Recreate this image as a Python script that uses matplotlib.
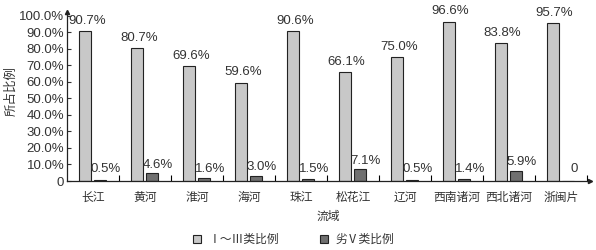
import numpy as np
import matplotlib
matplotlib.use("Agg")
import matplotlib.pyplot as plt

plt.rcParams['font.family'] = ['Liberation Sans', 'Noto Sans CJK SC', 'DejaVu Sans']

basins = ['长江', '黄河', '淮河', '海河', '珠江', '松花江', '辽河', '西南诸河', '西北诸河', '浙闽片']
good = [90.7, 80.7, 69.6, 59.6, 90.6, 66.1, 75.0, 96.6, 83.8, 95.7]
bad = [0.5, 4.6, 1.6, 3.0, 1.5, 7.1, 0.5, 1.4, 5.9, 0.0]
good_labels = ['90.7%', '80.7%', '69.6%', '59.6%', '90.6%', '66.1%', '75.0%', '96.6%', '83.8%', '95.7%']
bad_labels = ['0.5%', '4.6%', '1.6%', '3.0%', '1.5%', '7.1%', '0.5%', '1.4%', '5.9%', '0']
yticks = [0, 10, 20, 30, 40, 50, 60, 70, 80, 90, 100]
ytick_labels = ['0'] + [f'{v:.1f}%' for v in yticks[1:]]

fig = plt.figure(figsize=(5.96, 2.5), dpi=100)
ax = fig.add_axes([67 / 596, 1 - 181 / 250, (590 - 67) / 596, (181 - 12) / 250])

x = np.arange(len(basins))
w = 0.23
ax.bar(x - 0.15, good, w, color='#c8c8c8', edgecolor='#222222', linewidth=0.8,
       label='Ⅰ～Ⅲ类比例')
ax.bar(x + 0.14, bad, w, color='#707070', edgecolor='#222222', linewidth=0.8,
       label='劣Ⅴ类比例')

for i in range(len(basins)):
    ax.annotate(good_labels[i], (x[i] - 0.12, good[i]), xytext=(0, 3),
                textcoords='offset points', ha='center', va='bottom',
                fontsize=9.5, color='#333333')
    ax.annotate(bad_labels[i], (x[i] + 0.25, max(bad[i], 2.0)), xytext=(0, 2),
                textcoords='offset points', ha='center', va='bottom',
                fontsize=9.5, color='#333333')

ax.set_xlim(-0.5, 9.56)
ax.set_ylim(0, 102.4)
ax.set_yticks(yticks)
ax.set_yticklabels(ytick_labels)
ax.set_xticks(x)
ax.set_xticklabels(basins)
ax.set_xticks(x + 0.5, minor=True)
ax.tick_params(axis='x', which='major', length=0, labelsize=8.5, pad=8, colors='#333333')
ax.tick_params(axis='x', which='minor', direction='in', length=4, width=0.8)
ax.tick_params(axis='y', direction='in', length=3, width=0.8, labelsize=9.5, pad=2,
               colors='#333333')

for s in ['top', 'right']:
    ax.spines[s].set_visible(False)
for s in ['left', 'bottom']:
    ax.spines[s].set_linewidth(0.9)
    ax.spines[s].set_color('#222222')
ax.plot(0, 1, marker='^', color='#222222', markersize=3, transform=ax.transAxes, clip_on=False)
ax.plot(1, 0, marker='>', color='#222222', markersize=3, transform=ax.transAxes, clip_on=False)

ax.set_ylabel('所占比例', fontsize=9, color='#333333')
ax.yaxis.set_label_coords(-0.094, 0.53)
ax.set_xlabel('流域', fontsize=8.5, color='#333333', labelpad=5)

fig.legend(loc='center', bbox_to_anchor=(0.4925, 0.04), ncol=2, frameon=False,
           fontsize=8.5, handlelength=0.7, handleheight=0.7, handletextpad=0.6,
           columnspacing=3.5, labelcolor='#333333')

fig.savefig('out.png', dpi=100)
